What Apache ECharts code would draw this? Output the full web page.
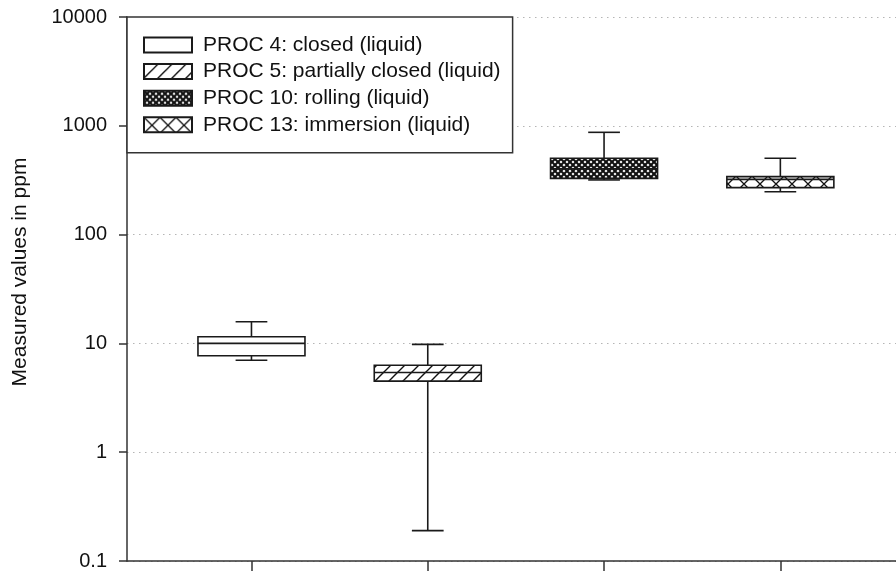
<!DOCTYPE html>
<html>
<head>
<meta charset="utf-8">
<script src="https://cdn.jsdelivr.net/npm/echarts@6/dist/echarts.min.js"></script>
<style>html,body{margin:0;padding:0;background:#fff;}#chart{width:896px;height:572px;}</style>
</head>
<body>
<div id="chart"></div>
<script>
// ---- data ----
const categories = ['PROC 4: closed (liquid)', 'PROC 5: partially closed (liquid)', 'PROC 10: rolling (liquid)', 'PROC 13: immersion (liquid)'];
const positions = [1, 2, 3, 4];
const lowerWhisker = [7.0, 0.19, 318, 248];
const q1 = [7.7, 4.5, 329, 270];
const median = [10.0, 5.4, 403, 322];
const q3 = [11.5, 6.3, 503, 341];
const upperWhisker = [15.8, 9.8, 871, 503];

// ---- styles ----
const FONT = 'Liberation Sans, Arial, sans-serif';
const BOX_W = 0.607, CAP_W = 0.18;
const LINE = '#1a1a1a';

function pattern(w, h, draw) {
  const c = document.createElement('canvas');
  c.width = w; c.height = h;
  const g = c.getContext('2d');
  g.fillStyle = '#fff'; g.fillRect(0, 0, w, h);
  g.strokeStyle = '#111';
  draw(g, w, h);
  return { image: c, repeat: 'repeat' };
}
const fills = [
  '#ffffff',
  pattern(14, 14, (g, w, h) => {
    g.lineWidth = 1.4;
    g.beginPath();
    g.moveTo(-2, h + 2); g.lineTo(w + 2, -2);
    g.moveTo(-2, 2); g.lineTo(2, -2);
    g.moveTo(w - 2, h + 2); g.lineTo(w + 2, h - 2);
    g.stroke();
  }),
  pattern(6, 6, (g, w, h) => {
    g.lineWidth = 2.1;
    g.beginPath();
    g.moveTo(0, 0); g.lineTo(w, h);
    g.moveTo(w, 0); g.lineTo(0, h);
    g.stroke();
  }),
  pattern(16, 16, (g, w, h) => {
    g.lineWidth = 1.3;
    g.beginPath();
    g.moveTo(0, 0); g.lineTo(w, h);
    g.moveTo(w, 0); g.lineTo(0, h);
    g.stroke();
  })
];

function renderBox(idx) {
  return function (params, api) {
    const x = api.value(0);
    const lo = api.coord([x, api.value(1)]);
    const a = api.coord([x, api.value(2)]);
    const m = api.coord([x, api.value(3)]);
    const b = api.coord([x, api.value(4)]);
    const hi = api.coord([x, api.value(5)]);
    const bl = api.coord([x - BOX_W / 2, api.value(3)])[0];
    const br = api.coord([x + BOX_W / 2, api.value(3)])[0];
    const cl = api.coord([x - CAP_W / 2, api.value(3)])[0];
    const cr = api.coord([x + CAP_W / 2, api.value(3)])[0];
    const ls = { stroke: LINE, lineWidth: 1.6 };
    const cx = m[0];
    return {
      type: 'group',
      children: [
        { type: 'line', shape: { x1: cx, y1: b[1], x2: cx, y2: hi[1] }, style: ls },
        { type: 'line', shape: { x1: cx, y1: a[1], x2: cx, y2: lo[1] }, style: ls },
        { type: 'line', shape: { x1: cl, y1: hi[1], x2: cr, y2: hi[1] }, style: ls },
        { type: 'rect', shape: { x: bl, y: b[1], width: br - bl, height: a[1] - b[1] },
          style: { fill: fills[idx], stroke: LINE, lineWidth: 1.6 } },
        { type: 'line', shape: { x1: bl, y1: m[1], x2: br, y2: m[1] }, style: ls },
        { type: 'line', shape: { x1: cl, y1: lo[1], x2: cr, y2: lo[1] }, style: ls }
      ]
    };
  };
}

const series = categories.map((name, i) => ({
  type: 'custom',
  name: name,
  renderItem: renderBox(i),
  itemStyle: { color: fills[i], borderColor: LINE, borderWidth: 1.3 },
  encode: { x: 0, y: [1, 2, 3, 4, 5] },
  data: [[positions[i], lowerWhisker[i], q1[i], median[i], q3[i], upperWhisker[i]]],
  z: 3
}));

const chart = echarts.init(document.getElementById('chart'), null, { renderer: 'canvas' });
chart.setOption({
  animation: false,
  backgroundColor: '#fff',
  textStyle: { fontFamily: FONT },
  grid: { left: 127, right: 0, top: 17, bottom: 11, containLabel: false },
  legend: {
    orient: 'vertical',
    left: 127, top: 17,
    icon: 'rect',
    itemWidth: 48, itemHeight: 15,
    itemGap: 5.6,
    padding: [17.5, 12, 17.5, 16],
    backgroundColor: '#fff',
    borderColor: '#333', borderWidth: 1.5, borderRadius: 0,
    textStyle: { fontSize: 21, color: '#111', fontFamily: FONT, padding: [0, 0, 0, 6] },
    data: categories
  },
  xAxis: {
    type: 'value',
    min: 0.294, max: 4.656,
    axisLine: { show: true, onZero: false, lineStyle: { color: '#333', width: 1.5 } },
    axisTick: { show: true, customValues: positions, length: 10, lineStyle: { color: '#333', width: 1.5 } },
    axisLabel: { show: false },
    splitLine: { show: false }
  },
  yAxis: {
    type: 'log', logBase: 10,
    min: 0.1, max: 10000,
    name: 'Measured values in ppm',
    nameLocation: 'middle', nameGap: 96,
    nameTextStyle: { fontSize: 21, color: '#111', fontFamily: FONT, padding: [0, 0, 0, 34] },
    axisLine: { show: true, lineStyle: { color: '#333', width: 1.5 } },
    axisTick: { show: true, length: 8, lineStyle: { color: '#333', width: 1.5 } },
    minorTick: { show: false },
    axisLabel: {
      fontSize: 20, color: '#111', margin: 20, fontFamily: FONT,
      formatter: v => String(Number(Number(v).toPrecision(6)))
    },
    splitLine: { show: true, lineStyle: { color: '#b5b5b5', width: 1.2, type: [1.5, 4.5] } }
  },
  series: series
});
</script>
</body>
</html>
